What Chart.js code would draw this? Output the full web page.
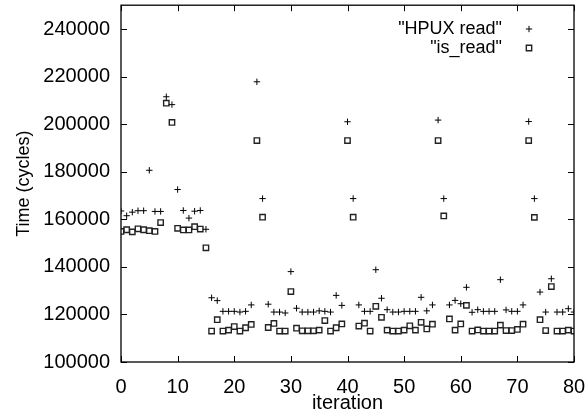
<!DOCTYPE html>
<html>
<head>
<meta charset="utf-8">
<script src="https://cdn.jsdelivr.net/npm/chart.js@4/dist/chart.umd.min.js"></script>
<style>
html,body{margin:0;padding:0;background:#fff;}
canvas{display:block;}
</style>
</head>
<body>
<canvas id="c" width="586" height="415"></canvas>
<script>
const iterations = [0,1,2,3,4,5,6,7,8,9,10,11,12,13,14,15,16,17,18,19,20,21,22,23,24,25,26,27,28,29,30,31,32,33,34,35,36,37,38,39,40,41,42,43,44,45,46,47,48,49,50,51,52,53,54,55,56,57,58,59,60,61,62,63,64,65,66,67,68,69,70,71,72,73,74,75,76,77,78,79,80];
const hpuxRead = [163500,161500,163000,163600,163600,180600,163300,163300,211500,208200,
  172500,163700,160500,163400,163700,155800,127000,125800,121300,121300,
  121300,121000,121300,124000,217800,168700,124300,121000,121000,120600,
  138000,122600,121000,121000,121000,121500,121300,121000,128000,123800,
  201000,168700,124000,121300,121300,138800,126800,122000,121000,121000,
  121300,121300,121300,127200,121500,124000,201700,168700,124000,125900,
  124500,131400,120900,122000,121300,121300,121300,134600,121900,121300,
  121300,124000,201100,168700,129400,121000,135000,121000,121000,122400,121000];
const isRead = [154900,155600,154700,156000,155600,155200,154900,158600,208800,200700,
  156200,155500,155500,156900,155900,148000,113000,117800,113000,113400,
  114900,113000,114400,115800,193100,160900,114500,116200,113000,113000,
  129600,114200,113100,113100,113100,113400,117400,113000,114400,116000,
  193100,160900,115100,116300,113000,123400,118800,113400,113000,113000,
  113400,115200,113400,116700,113900,115900,193100,161400,118100,113400,
  116000,123800,113000,113500,113000,113000,113000,115500,113200,113200,
  113700,115900,193100,160800,117800,113200,131700,113000,113000,113400,113000];
const seriesNames = ['"HPUX read"', '"is_read"'];
const xTickValues = [0,10,20,30,40,50,60,70,80];
const yTickValues = [100000,120000,140000,160000,180000,200000,220000,240000];
const xTitle = 'iteration';
const yTitle = 'Time (cycles)';

const FONT = '"Liberation Sans", Arial, sans-serif';

function toPoints(ys){ return iterations.map((x,i)=>({x:x, y:ys[i]})); }

const framePlugin = {
  id: 'frame',
  afterDraw(chart){
    const {ctx, chartArea:a, scales} = chart;
    ctx.save();
    ctx.strokeStyle = '#000';
    ctx.lineWidth = 1.3;
    ctx.strokeRect(a.left, a.top, a.right - a.left, a.bottom - a.top);
    ctx.lineWidth = 1;
    const L = 6;
    ctx.beginPath();
    scales.x.ticks.forEach(t=>{
      const px = Math.round(scales.x.getPixelForValue(t.value)) + 0.5;
      ctx.moveTo(px, a.bottom); ctx.lineTo(px, a.bottom - L);
      ctx.moveTo(px, a.top); ctx.lineTo(px, a.top + L);
    });
    scales.y.ticks.forEach(t=>{
      const py = Math.round(scales.y.getPixelForValue(t.value)) + 0.5;
      ctx.moveTo(a.left, py); ctx.lineTo(a.left + L, py);
      ctx.moveTo(a.right, py); ctx.lineTo(a.right - L, py);
    });
    ctx.stroke();
    // legend
    ctx.font = '18px ' + FONT;
    ctx.textAlign = 'right';
    ctx.textBaseline = 'middle';
    const rows = [29, 48];
    chart.data.datasets.forEach((ds, i)=>{
      const y = rows[i];
      ctx.fillStyle = '#000';
      ctx.fillText(ds.label, 502, y);
      const opts = {pointStyle: ds.pointStyle, radius: ds.pointRadius, borderWidth: ds.borderWidth, rotation: 0};
      ctx.strokeStyle = ds.borderColor;
      ctx.fillStyle = ds.backgroundColor;
      ctx.lineWidth = ds.borderWidth;
      Chart.helpers.drawPoint(ctx, opts, 529, y);
    });
    ctx.restore();
  }
};

new Chart(document.getElementById('c'), {
  type: 'scatter',
  data: {
    datasets: [
      {label: seriesNames[0], data: toPoints(hpuxRead), pointStyle: 'cross', pointRadius: 3.2, pointHoverRadius: 3.2,
       borderColor: '#000', backgroundColor: '#000', borderWidth: 1},
      {label: seriesNames[1], data: toPoints(isRead), pointStyle: 'rect', pointRadius: 3.8, pointHoverRadius: 3.8,
       borderColor: '#222', backgroundColor: 'rgba(0,0,0,0)', borderWidth: 1.4}
    ]
  },
  options: {
    responsive: false,
    animation: false,
    devicePixelRatio: 1,
    events: [],
    layout: {padding: {left: 0, right: 12, top: 4, bottom: 0}},
    plugins: {legend: {display: false}, tooltip: {enabled: false}},
    scales: {
      x: {
        type: 'linear', min: 0, max: 80,
        grid: {display: false}, border: {display: false},
        ticks: {padding: 5, color: '#000', font: {family: FONT, size: 20}, maxRotation: 0, autoSkip: false,
                callback: v => String(v)},
        afterBuildTicks(s){ s.ticks = xTickValues.map(v => ({value: v})); },
        title: {display: true, text: xTitle, color: '#000', font: {family: FONT, size: 20}, padding: {top: 0, bottom: 0}},
        afterFit(s){ s.height = 53; s.paddingLeft = 0; s.paddingRight = 0; }
      },
      y: {
        type: 'linear', min: 100000, max: 250000,
        grid: {display: false}, border: {display: false},
        ticks: {padding: 3, color: '#000', font: {family: FONT, size: 20}, autoSkip: false,
                callback: v => String(v)},
        afterBuildTicks(s){ s.ticks = yTickValues.map(v => ({value: v})); },
        title: {display: true, text: yTitle, color: '#000', font: {family: FONT, size: 18}, padding: {top: 13, bottom: 0}},
        afterFit(s){ s.width = 121; s.paddingTop = 0; s.paddingBottom = 0; }
      }
    }
  },
  plugins: [framePlugin]
});
</script>
</body>
</html>
